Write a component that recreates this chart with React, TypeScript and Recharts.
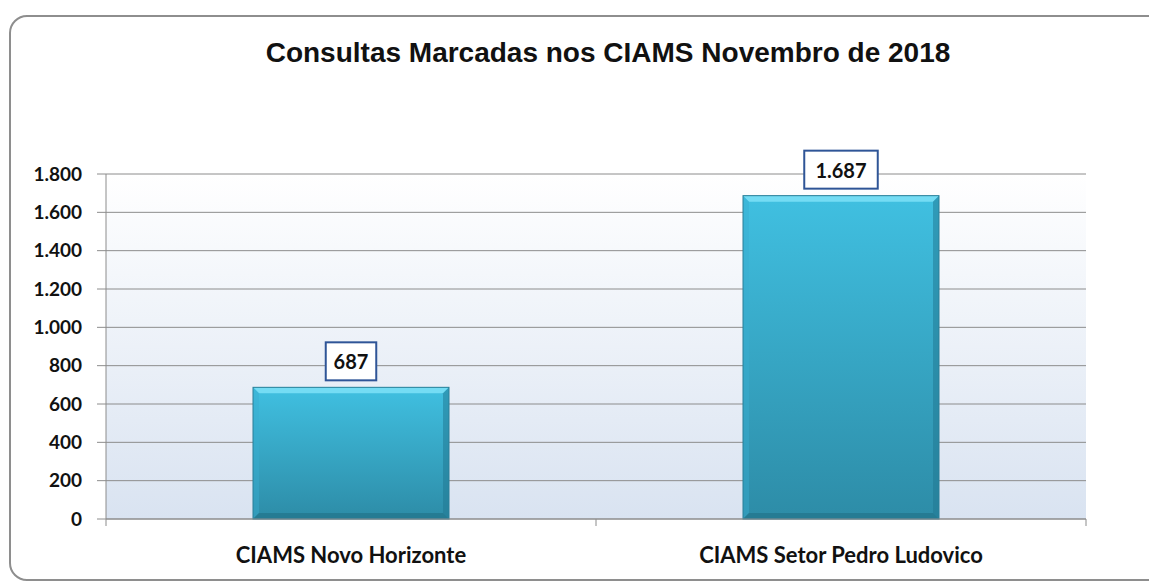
import { BarChart, Bar, XAxis, YAxis, CartesianGrid, LabelList } from "recharts";

const categories = ["CIAMS Novo Horizonte", "CIAMS Setor Pedro Ludovico"];
const consultas = [687, 1687];
const yTicks = [0, 200, 400, 600, 800, 1000, 1200, 1400, 1600, 1800];
const edgeTicks = [0, 1, 2];

const data = categories.map((c, i) => ({ name: c, value: consultas[i], pos: i + 0.5 }));

const fmt = (v: number) => String(v).replace(/\B(?=(\d{3})+(?!\d))/g, ".");

const FONT = "Lato, 'Open Sans', sans-serif";

// bevelled bar like the Excel original
function BevelBar(props: any) {
  const { x, y, width, height } = props;
  if (!height || height <= 0) return null;
  const b = 6;
  return (
    <g>
      <rect x={x} y={y} width={width} height={height} fill="url(#barFill)" />
      <polygon points={`${x},${y} ${x + width},${y} ${x + width - b},${y + b} ${x + b},${y + b}`} fill="#74dcf4" />
      <polygon points={`${x},${y} ${x + b},${y + b} ${x + b},${y + height - b} ${x},${y + height}`} fill="#3aaed0" opacity={0.45} />
      <polygon points={`${x + width},${y} ${x + width - b},${y + b} ${x + width - b},${y + height - b} ${x + width},${y + height}`} fill="#1f7590" opacity={0.5} />
      <polygon points={`${x},${y + height} ${x + b},${y + height - b} ${x + width - b},${y + height - b} ${x + width},${y + height}`} fill="#1f6f86" opacity={0.6} />
      <rect x={x} y={y} width={width} height={height} fill="none" stroke="#2a7f98" strokeWidth={1} />
    </g>
  );
}

function ValueBox(props: any) {
  const { x, y, width, value } = props;
  const text = fmt(Number(value));
  const w = text.length * 11.5 + 16;
  const h = 38;
  const cx = x + width / 2;
  return (
    <g>
      <rect x={cx - w / 2} y={y - 7 - h} width={w} height={h} fill="#fff" stroke="#2f5597" strokeWidth={2} />
      <text x={cx} y={y - 7 - h / 2} textAnchor="middle" dominantBaseline="central" fontFamily={FONT} fontWeight={700} fontSize={20} fill="#111">
        {text}
      </text>
    </g>
  );
}

const NoLabel = () => <g />;

export default function App() {
  return (
    <div style={{ position: "absolute", left: 0, top: 0, width: 1149, height: 581, background: "#fff", overflow: "hidden" }}>
      <div
        style={{
          position: "absolute",
          left: 9,
          top: 15,
          width: 1160,
          height: 562,
          border: "2px solid #8e8e8e",
          borderRadius: 18,
        }}
      />
      <div
        style={{
          position: "absolute",
          left: 0,
          top: 37,
          width: 1216,
          textAlign: "center",
          fontFamily: "'Liberation Sans', Arial, sans-serif",
          fontWeight: 700,
          fontSize: 28,
          color: "#111",
        }}
      >
        Consultas Marcadas nos CIAMS Novembro de 2018
      </div>
      <div style={{ position: "absolute", left: 0, top: 0 }}>
        <BarChart
          width={1149}
          height={581}
          data={data}
          margin={{ top: 174, right: 63, left: 36, bottom: 0 }}
          barCategoryGap="30%"
        >
          <defs>
            <linearGradient id="plotBg" x1="0" y1="0" x2="0" y2="1">
              <stop offset="0%" stopColor="#ffffff" />
              <stop offset="100%" stopColor="#d9e3f1" />
            </linearGradient>
            <linearGradient id="barFill" x1="0" y1="0" x2="0" y2="1">
              <stop offset="0%" stopColor="#40c0e1" />
              <stop offset="100%" stopColor="#2d8ca7" />
            </linearGradient>
          </defs>
          <CartesianGrid vertical={false} stroke="#8c8c8c" fill="url(#plotBg)" xAxisId={1} />
          <XAxis
            xAxisId={0}
            type="number"
            dataKey="pos"
            domain={[0, 2]}
            ticks={edgeTicks}
            interval={0}
            tick={NoLabel}
            height={8}
            axisLine={{ stroke: "#8c8c8c" }}
            tickSize={7}
            tickLine={{ stroke: "#8c8c8c" }}
          />
          <XAxis
            xAxisId={1}
            dataKey="name"
            height={54}
            tickLine={false}
            axisLine={false}
            tickMargin={14}
            tick={{ fill: "#111", fontFamily: FONT, fontWeight: 700, fontSize: 22 }}
          />
          <YAxis
            width={70}
            domain={[0, 1800]}
            ticks={yTicks}
            interval={0}
            tickFormatter={fmt}
            tickSize={9}
            tickMargin={15}
            axisLine={{ stroke: "#8c8c8c" }}
            tickLine={{ stroke: "#8c8c8c" }}
            tick={{ fill: "#111", fontFamily: FONT, fontWeight: 700, fontSize: 19 }}
          />
          <Bar xAxisId={1} dataKey="value" shape={<BevelBar />} isAnimationActive={false}>
            <LabelList dataKey="value" content={<ValueBox />} />
          </Bar>
        </BarChart>
      </div>
    </div>
  );
}
